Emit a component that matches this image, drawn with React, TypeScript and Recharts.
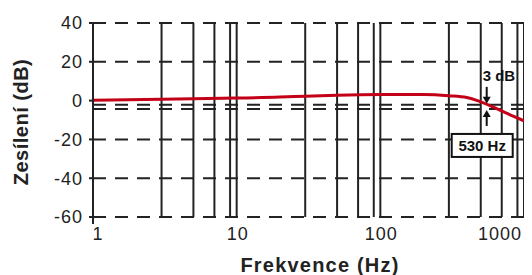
import React from 'react';
import {
  LineChart,
  Line,
  XAxis,
  YAxis,
  ReferenceLine,
  ReferenceDot,
} from 'recharts';

const frequencies = [1, 3, 10, 20, 30, 50, 100, 200, 300, 400, 480, 600, 740, 1000];
const gains = [0.2, 0.7, 1.3, 1.8, 2.3, 2.8, 3.1, 3.1, 2.5, 1.6, -0.1, -3.1, -6.2, -10.4];

const xTicks = [1, 10, 100, 1000];
const yTicks = [-60, -40, -20, 0, 20, 40];
const verticalLines = [3, 5, 7, 9, 10, 30, 50, 70, 90, 100, 300, 500, 700, 900, 1000];
const dashedLevels = [40, 20, -2.2, -4.3, -20, -40, -60];

const cutoffFreq = 550;
const cutoffLabel = '530 Hz';
const dropLabel = '3 dB';

const data = frequencies.map((f, i) => ({ f, gain: gains[i] }));

const FONT = '"Liberation Sans", Arial, Helvetica, sans-serif';
const INK = '#222';
const RED = '#c40018';

const XTick = ({ x, y, payload }: any) => {
  const v = payload.value;
  let anchor: 'start' | 'middle' | 'end' = 'middle';
  let dx = 1;
  if (v === 1) dx = 5;
  if (v === 1000) {
    anchor = 'end';
    dx = 6;
  }
  return (
    <g>
      {v === 1 && <line x1={x} x2={x} y1={y} y2={y + 7} stroke={INK} strokeWidth={2} />}
      <text
        x={x + dx}
        y={y + 23}
        textAnchor={anchor}
        fontFamily={FONT}
        fontSize={18}
        letterSpacing={1}
        fill={INK}
      >
        {v}
      </text>
    </g>
  );
};

const DownArrow = ({ cx, cy }: any) => (
  <g>
    <line x1={cx} x2={cx} y1={cy - 18} y2={cy - 6} stroke="#111" strokeWidth={2} />
    <path d={`M${cx - 4},${cy - 8} L${cx + 4},${cy - 8} L${cx},${cy - 1} Z`} fill="#111" />
    <text
      x={cx - 4}
      y={cy - 24}
      fontFamily={FONT}
      fontSize={15}
      fontWeight="bold"
      fill="#111"
    >
      {dropLabel}
    </text>
  </g>
);

const UpArrow = ({ cx, cy }: any) => (
  <g>
    <line x1={cx} x2={cx} y1={cy + 6} y2={cy + 17} stroke="#111" strokeWidth={2} />
    <path d={`M${cx - 4},${cy + 8} L${cx + 4},${cy + 8} L${cx},${cy + 1} Z`} fill="#111" />
    <rect x={cx - 35} y={cy + 25} width={61} height={23} fill="#fff" stroke="#111" strokeWidth={2} />
    <text
      x={cx - 4.5}
      y={cy + 42}
      textAnchor="middle"
      fontFamily={FONT}
      fontSize={15}
      fontWeight="bold"
      fill="#111"
    >
      {cutoffLabel}
    </text>
  </g>
);

export default function App() {
  return (
    <div style={{ position: 'relative', width: 532, height: 275, marginLeft: -8, marginTop: -8 }}>
      <LineChart
        width={532}
        height={275}
        data={data}
        margin={{ top: 23, right: 8, bottom: 0, left: 0 }}
      >
        <XAxis
          dataKey="f"
          type="number"
          scale="log"
          domain={[1, 1000]}
          ticks={xTicks}
          axisLine={false}
          tickLine={false}
          tickSize={0}
          tickMargin={0}
          height={58}
          tick={<XTick />}
          allowDataOverflow
        />
        <YAxis
          type="number"
          domain={[-60, 40]}
          ticks={yTicks}
          width={93}
          axisLine={{ stroke: INK, strokeWidth: 2 }}
          tickLine={{ stroke: INK, strokeWidth: 2 }}
          tickSize={4}
          tickMargin={6}
          tick={{ fill: INK, fontSize: 18, fontFamily: FONT, letterSpacing: 1 }}
        />
        {dashedLevels.map((y) => (
          <ReferenceLine key={`h${y}`} y={y} stroke={INK} strokeWidth={2} strokeDasharray="13 9" />
        ))}
        {verticalLines.map((x) => (
          <ReferenceLine key={`v${x}`} x={x} stroke={INK} strokeWidth={2} />
        ))}
        <Line
          type="monotone"
          dataKey="gain"
          stroke={RED}
          strokeWidth={3}
          dot={false}
          isAnimationActive={false}
        />
        <ReferenceDot x={cutoffFreq} y={-2.2} r={0} shape={<DownArrow />} />
        <ReferenceDot x={cutoffFreq} y={-4.3} r={0} shape={<UpArrow />} />
      </LineChart>
      <svg
        width={532}
        height={275}
        style={{ position: 'absolute', left: 0, top: 0, pointerEvents: 'none' }}
      >
        <text x={307} y={5} textAnchor="middle" fontFamily={FONT} fontSize={20} fontWeight="bold" fill={INK}>
          motoru
        </text>
        <text
          x={28}
          y={122}
          textAnchor="middle"
          transform="rotate(-90 28 122)"
          fontFamily={FONT}
          fontSize={20}
          fontWeight="bold"
          letterSpacing={0.5}
          fill={INK}
        >
          Zesílení (dB)
        </text>
        <text
          x={320}
          y={272}
          textAnchor="middle"
          fontFamily={FONT}
          fontSize={20}
          fontWeight="bold"
          letterSpacing={1.2}
          fill={INK}
        >
          Frekvence (Hz)
        </text>
      </svg>
    </div>
  );
}
